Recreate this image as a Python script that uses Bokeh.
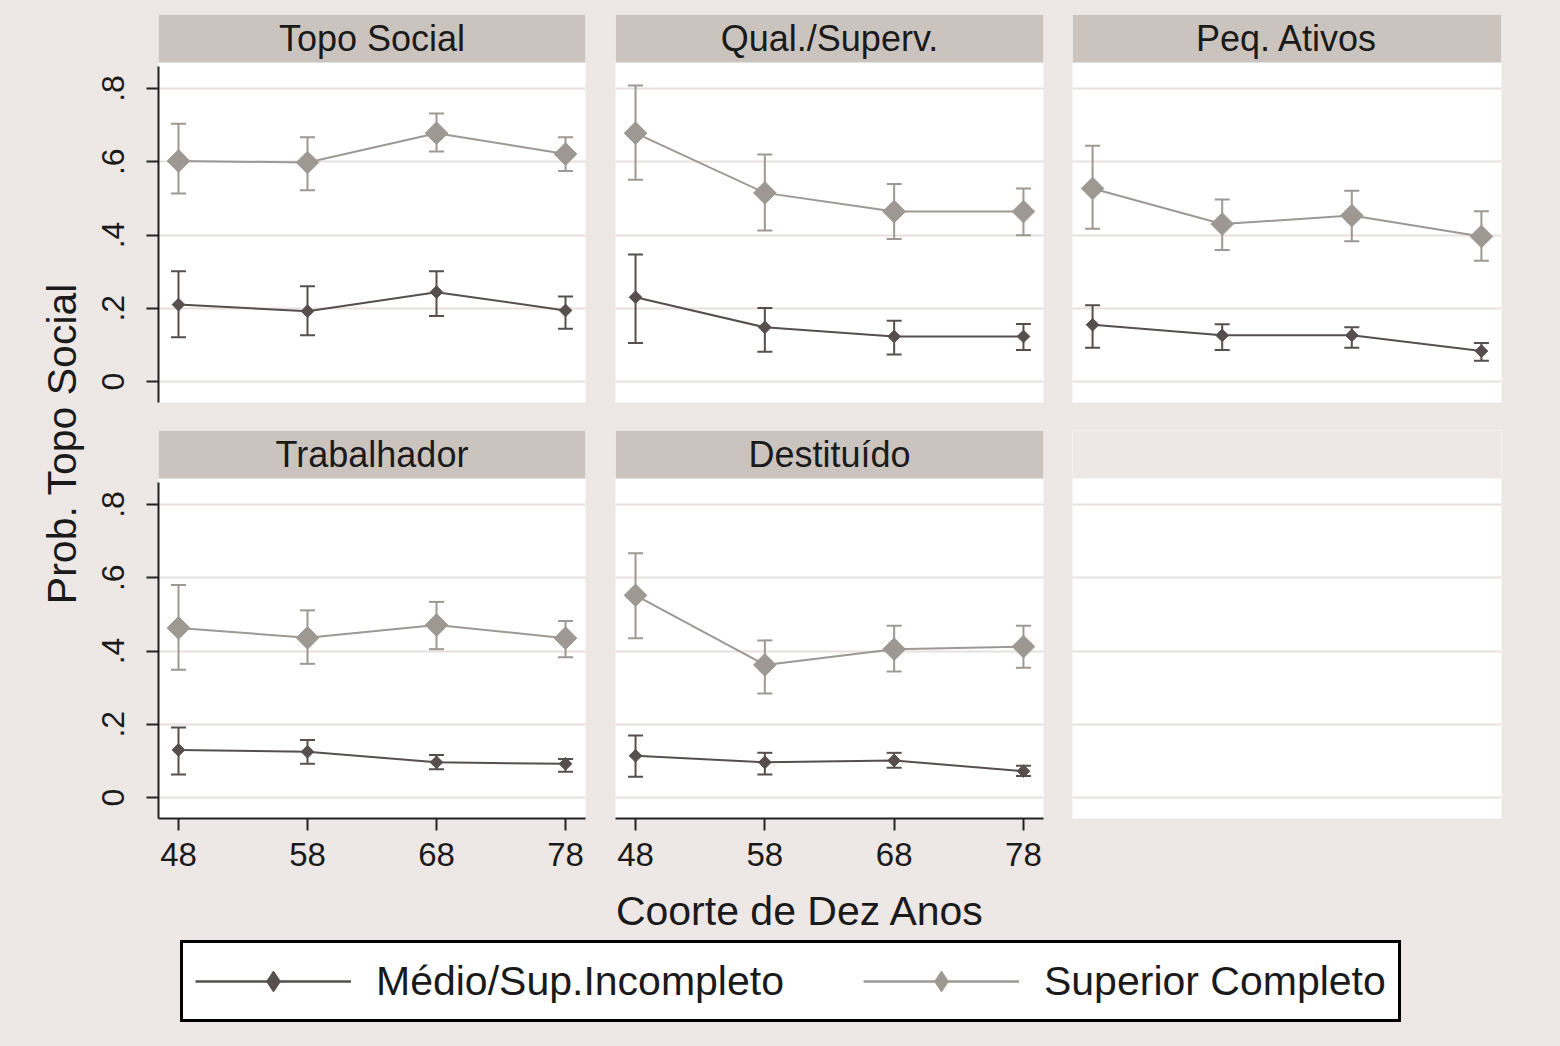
import numpy as np
from jinja2 import Template
from bokeh.plotting import figure
from bokeh.models import (ColumnDataSource, FixedTicker, CustomJSTickFormatter, BoxAnnotation,
                          Label, Legend, LegendItem, Range1d, Whisker, TeeHead)
from bokeh.layouts import row, column
from bokeh.embed import file_html
from bokeh.resources import INLINE

# ---------------- data ----------------
cohorts = [48, 58, 68, 78]
y_ticks = [0, 0.2, 0.4, 0.6, 0.8]
panel_titles = ["Topo Social", "Qual./Superv.", "Peq. Ativos", "Trabalhador", "Destituído"]
series_labels = ["Médio/Sup.Incompleto", "Superior Completo"]
x_title = "Coorte de Dez Anos"
y_title = "Prob. Topo Social"

# Topo Social
ts_med = [0.210, 0.192, 0.244, 0.194]
ts_med_lo = [0.121, 0.126, 0.179, 0.144]
ts_med_hi = [0.301, 0.260, 0.301, 0.232]
ts_sup = [0.602, 0.598, 0.678, 0.621]
ts_sup_lo = [0.513, 0.522, 0.628, 0.575]
ts_sup_hi = [0.704, 0.667, 0.732, 0.667]

# Qual./Superv.
qs_med = [0.230, 0.148, 0.123, 0.123]
qs_med_lo = [0.105, 0.081, 0.074, 0.086]
qs_med_hi = [0.347, 0.201, 0.166, 0.157]
qs_sup = [0.678, 0.515, 0.464, 0.464]
qs_sup_lo = [0.551, 0.412, 0.389, 0.399]
qs_sup_hi = [0.808, 0.620, 0.539, 0.527]

# Peq. Ativos
pa_med = [0.155, 0.126, 0.126, 0.083]
pa_med_lo = [0.092, 0.086, 0.092, 0.057]
pa_med_hi = [0.208, 0.156, 0.148, 0.105]
pa_sup = [0.527, 0.430, 0.453, 0.396]
pa_sup_lo = [0.417, 0.359, 0.383, 0.330]
pa_sup_hi = [0.644, 0.497, 0.521, 0.465]

# Trabalhador
tr_med = [0.130, 0.125, 0.096, 0.092]
tr_med_lo = [0.063, 0.092, 0.077, 0.070]
tr_med_hi = [0.191, 0.157, 0.116, 0.105]
tr_sup = [0.463, 0.436, 0.471, 0.435]
tr_sup_lo = [0.349, 0.365, 0.405, 0.383]
tr_sup_hi = [0.580, 0.511, 0.534, 0.482]

# Destituído
de_med = [0.114, 0.096, 0.101, 0.072]
de_med_lo = [0.057, 0.063, 0.081, 0.059]
de_med_hi = [0.169, 0.122, 0.122, 0.087]
de_sup = [0.552, 0.362, 0.405, 0.412]
de_sup_lo = [0.435, 0.284, 0.344, 0.354]
de_sup_hi = [0.667, 0.429, 0.469, 0.469]

panel_data = [
    (ts_med, ts_med_lo, ts_med_hi, ts_sup, ts_sup_lo, ts_sup_hi),
    (qs_med, qs_med_lo, qs_med_hi, qs_sup, qs_sup_lo, qs_sup_hi),
    (pa_med, pa_med_lo, pa_med_hi, pa_sup, pa_sup_lo, pa_sup_hi),
    (tr_med, tr_med_lo, tr_med_hi, tr_sup, tr_sup_lo, tr_sup_hi),
    (de_med, de_med_lo, de_med_hi, de_sup, de_sup_lo, de_sup_hi),
]

# ---------------- style ----------------
BG = "#EDE7E5"
STRIP = "#CBC3BE"
DARK = "#574E4E"
LIGHT = "#9D9892"
GRID = "#E8E0DE"
AXIS = "#222222"
TEXT = "#1A1A1A"
FONT = "Liberation Sans"

X0, X1 = 46.45, 79.55
Y0, YP, Y1 = -0.0573, 0.871, 1.002


def base_figure(width, height, left, right, top, bottom, xaxis, yaxis):
    p = figure(width=width, height=height, x_range=Range1d(X0, X1), y_range=Range1d(Y0, Y1),
               output_backend="svg", toolbar_location=None,
               x_axis_location="below" if xaxis else None,
               y_axis_location="left" if yaxis else None,
               min_border_left=left, min_border_right=right,
               min_border_top=top, min_border_bottom=bottom)
    p.border_fill_color = BG
    p.background_fill_color = "white"
    p.outline_line_color = None
    p.xgrid.visible = False
    p.ygrid.ticker = FixedTicker(ticks=y_ticks)
    p.ygrid.grid_line_color = GRID
    p.ygrid.grid_line_width = 2
    return p


def make_panel(idx, width, height, left, right, top, bottom, yaxis, xaxis):
    p = base_figure(width, height, left, right, top, bottom, xaxis, yaxis)

    # strip header
    p.add_layout(BoxAnnotation(left=X0, right=X1, bottom=YP, top=Y1, fill_color=STRIP,
                               fill_alpha=1, line_color="#D3E2E2", line_width=1))
    p.add_layout(Label(x=(X0 + X1) / 2, y=(YP + Y1) / 2, text=panel_titles[idx],
                       text_align="center", text_baseline="middle", text_font=FONT,
                       text_font_size="36px", text_color=TEXT))

    med, med_lo, med_hi, sup, sup_lo, sup_hi = panel_data[idx]
    for est, lo, hi, col, msize in ((sup, sup_lo, sup_hi, LIGHT, 16),
                                    (med, med_lo, med_hi, DARK, 9)):
        src = ColumnDataSource(dict(x=cohorts, y=est, lo=lo, hi=hi))
        p.line("x", "y", source=src, line_color=col, line_width=2)
        p.add_layout(Whisker(source=src, base="x", upper="hi", lower="lo",
                             line_color=col, line_width=2,
                             upper_head=TeeHead(size=15, line_color=col, line_width=2),
                             lower_head=TeeHead(size=15, line_color=col, line_width=2)))
        p.scatter("x", "y", source=src, marker="square", angle=np.pi / 4, size=msize,
                  fill_color=col, line_color=col)

    if yaxis:
        ax = p.yaxis[0]
        ax.ticker = FixedTicker(ticks=y_ticks)
        ax.formatter = CustomJSTickFormatter(
            code="return tick == 0 ? '0' : tick.toFixed(1).replace(/^0/, '');")
        ax.major_label_orientation = "vertical"
        ax.bounds = (-0.06, 0.86)
        ax.axis_line_color = AXIS
        ax.axis_line_width = 2
        ax.major_tick_line_color = AXIS
        ax.major_tick_line_width = 2
        ax.major_tick_out = 12
        ax.major_tick_in = 0
        ax.minor_tick_out = 0
        ax.minor_tick_in = 0
        ax.major_label_standoff = 22
        ax.major_label_text_font = FONT
        ax.major_label_text_font_size = "32px"
        ax.major_label_text_color = TEXT
    if xaxis:
        ax = p.xaxis[0]
        ax.ticker = FixedTicker(ticks=cohorts)
        ax.axis_line_color = AXIS
        ax.axis_line_width = 2
        ax.major_tick_line_color = AXIS
        ax.major_tick_line_width = 2
        ax.major_tick_out = 12
        ax.major_tick_in = 0
        ax.minor_tick_out = 0
        ax.minor_tick_in = 0
        ax.major_label_standoff = 12
        ax.major_label_text_font = FONT
        ax.major_label_text_font_size = "33px"
        ax.major_label_text_color = TEXT
    return p


# layout geometry (page origin = screenshot origin)
YW = 86                      # y-title column width
LB = 158 - YW                # left border of first-column panels
R1H, R2H = 416, 466          # row heights
BH = 1046 - R1H - R2H        # bottom strip (x title + legend)

# row 1
f1 = make_panel(0, LB + 427 + 15, R1H, LB, 15, 14, 14, True, False)
f2 = make_panel(1, 458, R1H, 15, 15, 14, 14, False, False)
f3 = make_panel(2, 502, R1H, 14, 59, 14, 14, False, False)
# row 2
f4 = make_panel(3, LB + 427 + 15, R2H, LB, 15, 14, 64, True, True)
f5 = make_panel(4, 458, R2H, 15, 15, 14, 64, False, True)

# empty sixth panel (no strip: header area painted with page colour)
f6 = base_figure(502, R2H, 14, 59, 14, 64, False, False)
f6.add_layout(BoxAnnotation(left=X0, right=X1, bottom=YP, top=Y1, fill_color=BG,
                            fill_alpha=1, line_color=None))

# y-axis title column
fy = figure(width=YW, height=R1H + R2H, x_range=Range1d(0, YW), y_range=Range1d(0, R1H + R2H),
            output_backend="svg", toolbar_location=None,
            x_axis_location=None, y_axis_location=None, min_border=0)
fy.border_fill_color = BG
fy.background_fill_color = BG
fy.outline_line_color = None
fy.grid.visible = False
fy.add_layout(Label(x=61, y=R1H + R2H - 443, text=y_title, angle=np.pi / 2,
                    text_align="center", text_baseline="middle", text_font=FONT,
                    text_font_size="41px", text_color=TEXT))

# bottom: x title + legend
fb = figure(width=1560, height=BH, x_range=Range1d(0, 1560), y_range=Range1d(0, BH),
            output_backend="svg", toolbar_location=None,
            x_axis_location=None, y_axis_location=None, min_border=0)
fb.border_fill_color = BG
fb.background_fill_color = BG
fb.outline_line_color = None
fb.grid.visible = False
fb.add_layout(Label(x=800, y=BH - 28, text=x_title, text_align="center",
                    text_baseline="middle", text_font=FONT, text_font_size="41px",
                    text_color=TEXT))

# legend samples (hidden renderers; only their legend glyphs are shown)
src_leg_med = ColumnDataSource(dict(x=cohorts, y=ts_med))
src_leg_sup = ColumnDataSource(dict(x=cohorts, y=ts_sup))
lr1 = fb.line("x", "y", source=src_leg_med, line_color=DARK, line_width=2.5, visible=False)
sr1 = fb.scatter("x", "y", source=src_leg_med, marker="diamond",
                 fill_color=DARK, line_color=DARK, visible=False)
lr2 = fb.line("x", "y", source=src_leg_sup, line_color=LIGHT, line_width=2.5, visible=False)
sr2 = fb.scatter("x", "y", source=src_leg_sup, marker="diamond",
                 fill_color=LIGHT, line_color=LIGHT, visible=False)

legend = Legend(items=[LegendItem(label=series_labels[0], renderers=[lr1, sr1]),
                       LegendItem(label=series_labels[1], renderers=[lr2, sr2])],
                orientation="horizontal", location=(180, 24), padding=12,
                glyph_width=156, glyph_height=52, label_standoff=25, spacing=79,
                border_line_color="black", border_line_width=3, border_line_alpha=1,
                background_fill_color="white", background_fill_alpha=1,
                inactive_fill_alpha=0,
                label_text_font=FONT, label_text_font_size="41px", label_text_color=TEXT,
                margin=0)
fb.add_layout(legend, "center")

grid = column(row(f1, f2, f3), row(f4, f5, f6))
layout = column(row(fy, grid), fb)

page_template = Template("""{% extends base %}
{% block postamble %}<style>html, body { background-color: #EDE7E5; }</style>{% endblock %}""")

open("out.html", "w").write(file_html(layout, INLINE, title="Prob. Topo Social",
                                      template=page_template))
